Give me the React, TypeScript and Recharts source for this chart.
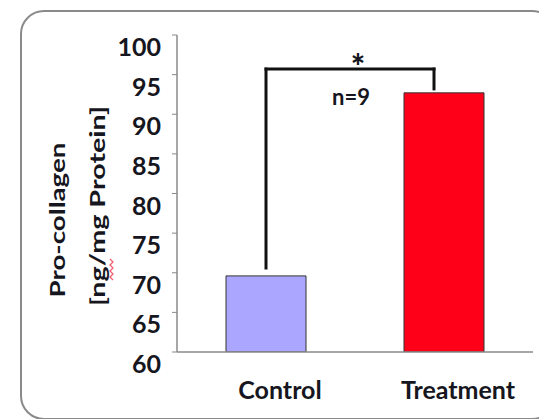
import React from 'react';
import { BarChart, Bar, XAxis, YAxis, Cell, ReferenceLine } from 'recharts';

const categories = ['Control', 'Treatment'];
const values = [69.6, 92.7];
const barColors = ['#aba6ff', '#ff0019'];
const yTicks = [60, 65, 70, 75, 80, 85, 90, 95, 100];
const bracketTop = 95.7;
const leftLegBottom = 70.6;
const rightLegBottom = 93.2;
const starText = '*';
const nText = 'n=9';
const yLabelLines = ['Pro-collagen', '[ng/mg Protein]'];

const data = categories.map((c, i) => ({ name: c, value: values[i] }));

const FONT = 'Lato, "Open Sans", sans-serif';
const TEXT = '#161620';

const YTick = (props: any) => {
  const { x, y, payload } = props;
  return (
    <text x={x - 9} y={y + 11} textAnchor="end" dominantBaseline="central"
      fontFamily={FONT} fontWeight={700} fontSize={25} fill={TEXT}>
      {payload.value}
    </text>
  );
};

const XTick = (props: any) => {
  const { x, payload } = props;
  return (
    <text x={x + 14} y={389} textAnchor="middle" dominantBaseline="central"
      fontFamily={FONT} fontWeight={700} fontSize={25} fill={TEXT}>
      {payload.value}
    </text>
  );
};

const YLabel = () => {
  const x1 = 57;
  const x2 = 97;
  const y1 = 220;
  const y2 = 206;
  return (
    <g>
      <text x={x1} y={y1} transform={`rotate(-90 ${x1} ${y1})`} textAnchor="middle"
        dominantBaseline="central" fontFamily={FONT} fontWeight={700} fontSize={20}
        fill={TEXT} textLength={155} lengthAdjust="spacingAndGlyphs">
        {yLabelLines[0]}
      </text>
      <text x={x2} y={y2} transform={`rotate(-90 ${x2} ${y2})`} textAnchor="middle"
        dominantBaseline="central" fontFamily={FONT} fontWeight={700} fontSize={20}
        fill={TEXT} textLength={200} lengthAdjust="spacingAndGlyphs">
        {yLabelLines[1]}
      </text>
      <path d="M110 259 l3 3 l-3 3 l3 3 l-3 3 l3 3 l-3 3 l3 3" stroke="#f06070" strokeWidth={1.3} fill="none" />
    </g>
  );
};

const seg = (dx1: number, dx2: number) => (p: any) => (
  <line x1={p.x1 + dx1} y1={p.y1} x2={p.x2 + dx2} y2={p.y2} stroke="#111" strokeWidth={3} strokeLinecap="square" />
);

export default function App() {
  return (
    <div style={{ position: 'absolute', left: 0, top: 0, width: 539, height: 419, overflow: 'hidden', background: '#fff' }}>
      <div style={{ position: 'absolute', left: 19.5, top: 10, width: 536, height: 410, border: '2px solid #8a8a8a', borderRadius: 24, boxSizing: 'border-box' }} />
      <div style={{ position: 'absolute', left: 0, top: 0 }}>
        <BarChart width={539} height={419} data={data} margin={{ top: 35, right: 6, bottom: 37, left: 0 }}>
          <XAxis dataKey="name" height={30} axisLine={{ stroke: '#8a8a8a', strokeWidth: 1.5 }} tickLine={false} tick={<XTick />} interval={0} />
          <YAxis width={177} domain={[60, 100]} ticks={yTicks} allowDataOverflow interval={0}
            axisLine={{ stroke: '#8a8a8a', strokeWidth: 1.5 }} tickLine={{ stroke: '#8a8a8a' }} tickSize={5}
            tick={<YTick />} label={<YLabel />} />
          <Bar dataKey="value" barSize={80} isAnimationActive={false} stroke="#333" strokeWidth={1}>
            {data.map((d, i) => <Cell key={d.name} fill={barColors[i]} />)}
          </Bar>
          <ReferenceLine segment={[{ x: categories[0], y: leftLegBottom }, { x: categories[0], y: bracketTop }]} shape={seg(0, 0)} />
          <ReferenceLine segment={[{ x: categories[0], y: bracketTop }, { x: categories[1], y: bracketTop }]} shape={seg(0, -10)}
            label={(p: any) => {
              const vb = p.viewBox || {};
              const cx = (vb.x ?? 0) + (vb.width ?? 0) / 2;
              const y = vb.y ?? 0;
              return (
                <g>
                  <text x={cx + 3} y={y + 10} textAnchor="middle" fontFamily={FONT} fontWeight={900} fontSize={34} fill={TEXT}>{starText}</text>
                  <text x={cx - 4} y={y + 27} textAnchor="middle" dominantBaseline="central" fontFamily={FONT} fontWeight={700} fontSize={22} fill={TEXT}>{nText}</text>
                </g>
              );
            }} />
          <ReferenceLine segment={[{ x: categories[1], y: bracketTop }, { x: categories[1], y: rightLegBottom }]} shape={seg(-10, -10)} />
        </BarChart>
      </div>
    </div>
  );
}
